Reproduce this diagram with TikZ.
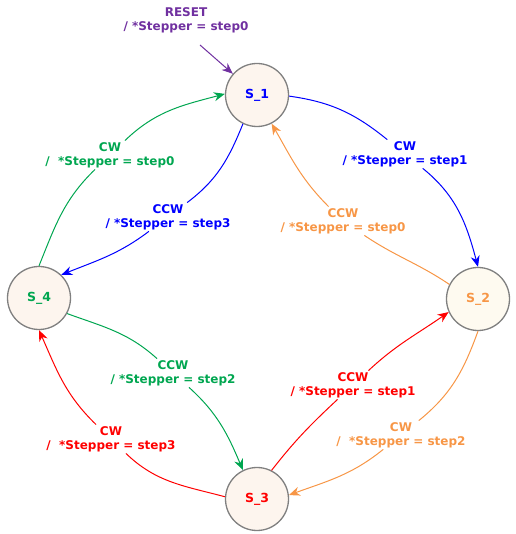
\documentclass[tikz,border=0pt]{standalone}
\usepackage{fontspec}
\setmainfont{DejaVu Sans}
\usetikzlibrary{arrows.meta}
\definecolor{cwblue}{RGB}{0,0,255}
\definecolor{cwgreen}{RGB}{0,166,80}
\definecolor{ccwred}{RGB}{255,0,0}
\definecolor{ccworange}{RGB}{247,150,70}
\definecolor{rstpurple}{RGB}{112,48,160}
\definecolor{stategray}{RGB}{128,128,128}
\definecolor{statefill}{RGB}{253,245,238}
\definecolor{statefillb}{RGB}{254,250,240}
\begin{document}
\begin{tikzpicture}[%
x=1pt,y=1pt,
>={Stealth[length=11pt,width=9pt,inset=3.5pt]},
state/.style={
circle,
draw=stategray,
line width=1.3pt,
fill=statefill,
minimum size=63pt,
inner sep=0pt,
font=\fontsize{12.5}{15}\selectfont\bfseries},
lbl/.style={
align=center,
inner sep=1.5pt,
font=\fontsize{12}{14}\selectfont\bfseries},
pil/.style={
->,
line width=1pt}
]
\useasboundingbox (0,0) rectangle (515,534);
\node[state,text=cwblue] (S1) at (257,439) {S\_1};
\node[state,fill=statefillb,text=ccworange] (S2) at (478,235) {S\_2};
\node[state,text=ccwred] (S3) at (257,35) {S\_3};
\node[state,text=cwgreen] (S4) at (39,236) {S\_4};
\node[lbl,text=rstpurple] (rstl) at (186,514) {RESET\\/ *Stepper = step0};
\coordinate (rst) at (200,489);
\node[lbl,text=cwblue] (e12) at (405,380) {CW\\/ *Stepper = step1};
\node[lbl,text=ccworange] (e21) at (343,313) {CCW\\/ *Stepper = step0};
\node[lbl,text=cwblue] (e14) at (168,317) {CCW\\/ *Stepper = step3};
\node[lbl,text=cwgreen] (e41) at (110,379) {CW\\/\ \ *Stepper = step0};
\node[lbl,text=cwgreen] (e43) at (173,161) {CCW\\/ *Stepper = step2};
\node[lbl,text=ccwred] (e34) at (111,95) {CW\\/\ \ *Stepper = step3};
\node[lbl,text=ccwred] (e32) at (353,149) {CCW\\/ *Stepper = step1};
\node[lbl,text=ccworange] (e23) at (401,99) {CW\\/\ \ *Stepper = step2};
\draw[pil,rstpurple] (rst) -- (S1);
\draw[pil,cwblue] (S1.-2) to[out=-8,in=141] (e12) to[out=-39,in=105] (S2.north);
\draw[pil,ccworange] (S2.153) to[out=146,in=-34] (e21) to[out=135,in=-60] (S1.-63);
\draw[pil,cwblue] (S1.-116) to[out=-112,in=37] (e14) to[out=-143,in=22] (S4.46);
\draw[pil,cwgreen] (S4.north) to[out=68,in=224] (e41) to[out=44,in=195] (S1.178);
\draw[pil,cwgreen] (S4.-29) to[out=-20,in=138] (e43) to[out=-42,in=113] (S3.116);
\draw[pil,ccwred] (S3.176) to[out=165,in=-44] (e34) to[out=136,in=-66] (S4.south);
\draw[pil,ccwred] (S3.63) to[out=52,in=223] (e32) to[out=43,in=215] (S2.204);
\draw[pil,ccworange] (S2.south) to[out=-110,in=39] (e23) to[out=-141,in=20] (S3.7);
\end{tikzpicture}
\end{document}
